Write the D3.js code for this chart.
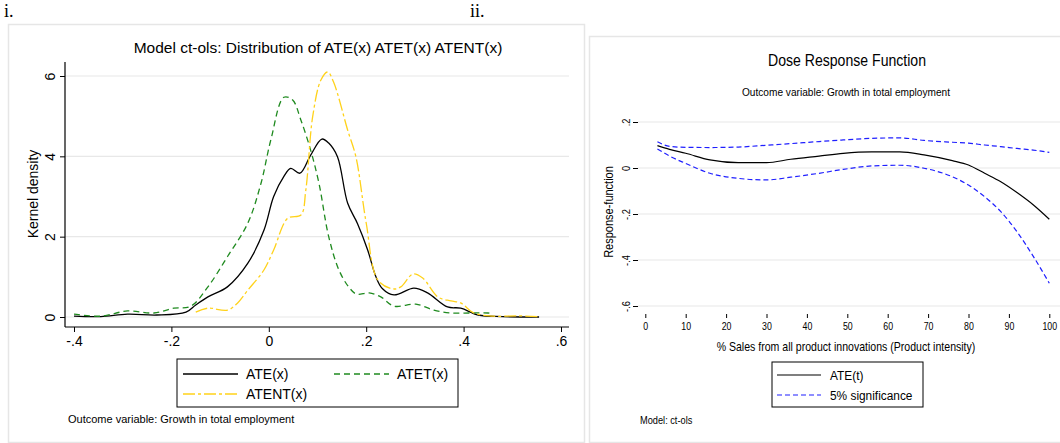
<!DOCTYPE html>
<html>
<head>
<meta charset="utf-8">
<script src="https://cdn.jsdelivr.net/npm/d3@7"></script>
<style>
  body { margin: 0; background: #fff; }
  svg { display: block; }
  svg text { font-family: "Liberation Sans", Arial, sans-serif; fill: #000; }
  .axis .domain { display: none; }
</style>
</head>
<body>
<svg id="chart"></svg>
<script>
// ---- left panel data: kernel densities [x, density]
const ateDensity = [[-0.40,0.02],[-0.345,0.01],[-0.29,0.07],[-0.23,0.05],[-0.17,0.12],[-0.15,0.3],[-0.125,0.5],[-0.085,0.75],[-0.043,1.34],[-0.01,2.16],[0.01,3.0],[0.031,3.5],[0.045,3.7],[0.064,3.58],[0.086,4.03],[0.109,4.43],[0.123,4.33],[0.141,3.99],[0.162,2.83],[0.182,2.33],[0.203,1.67],[0.22,1.0],[0.233,0.71],[0.257,0.55],[0.298,0.72],[0.326,0.6],[0.367,0.25],[0.394,0.22],[0.43,0.05],[0.48,0.01],[0.555,0.0]];
const atetDensity = [[-0.40,0.07],[-0.345,0.02],[-0.29,0.15],[-0.236,0.10],[-0.195,0.22],[-0.16,0.27],[-0.125,0.75],[-0.085,1.5],[-0.043,2.34],[-0.016,3.33],[0.004,4.4],[0.031,5.47],[0.049,5.4],[0.066,4.9],[0.086,4.15],[0.103,3.33],[0.123,2.0],[0.144,1.17],[0.164,0.75],[0.18,0.57],[0.206,0.6],[0.23,0.5],[0.257,0.27],[0.302,0.32],[0.339,0.17],[0.374,0.1],[0.415,0.1],[0.45,0.1],[0.46,0.08]];
const atentDensity = [[-0.15,0.12],[-0.125,0.22],[-0.085,0.17],[-0.064,0.35],[-0.043,0.67],[-0.01,1.17],[0.01,1.67],[0.039,2.46],[0.066,2.54],[0.076,3.16],[0.09,4.98],[0.107,5.9],[0.121,6.1],[0.133,5.85],[0.162,4.65],[0.179,3.98],[0.2,2.34],[0.224,0.92],[0.255,0.7],[0.271,0.75],[0.296,1.07],[0.316,0.97],[0.347,0.5],[0.374,0.4],[0.394,0.35],[0.421,0.1],[0.462,0.02],[0.51,0.03],[0.552,0.01]];
const leftXTicks = [-0.4, -0.2, 0, 0.2, 0.4, 0.6];
const leftYTicks = [0, 2, 4, 6];

// ---- right panel data: dose response
const doseX = [3, 6, 10, 16, 23, 30, 36, 43, 49, 56, 63, 69, 76, 80, 84, 88, 92, 96, 100];
const doseAte = [0.097,0.081,0.064,0.035,0.023,0.023,0.038,0.052,0.064,0.07,0.07,0.057,0.032,0.013,-0.023,-0.06,-0.107,-0.16,-0.223];
const doseLower = [0.083,0.052,0.02,-0.023,-0.045,-0.052,-0.04,-0.023,-0.006,0.009,0.012,-0.001,-0.038,-0.074,-0.125,-0.19,-0.277,-0.383,-0.501];
const doseUpper = [0.114,0.094,0.09,0.089,0.091,0.099,0.106,0.115,0.122,0.129,0.131,0.12,0.112,0.108,0.1,0.093,0.085,0.078,0.068];
const rightXTicks = [0, 10, 20, 30, 40, 50, 60, 70, 80, 90, 100];
const rightYTicks = [-0.6, -0.4, -0.2, 0, 0.2];

const w = 1060;
const h = 443;
const grid = "#e8e8e8";
const narrow = 0.88; // condensed look of the right panel's font
// Stata style labels: 0.4 -> .4, -0.2 -> -.2
const stataFmt = (d) => String(+d.toFixed(2)).replace(/^(-?)0\./, "$1.");

const svg = d3.select("#chart").attr("width", w).attr("height", h);

// panel labels
svg.append("text").attr("x", 4).attr("y", 17)
  .style("font-family", "'Liberation Serif', 'Times New Roman', serif")
  .style("font-size", "18px").text("i.");
svg.append("text").attr("x", 470).attr("y", 17)
  .style("font-family", "'Liberation Serif', 'Times New Roman', serif")
  .style("font-size", "18px").text("ii.");

// panel frames
svg.append("rect").attr("x", 8.5).attr("y", 24.5).attr("width", 576).attr("height", 418)
  .attr("fill", "#fff").attr("stroke", "#e6e6e6").attr("stroke-width", 1.5);
svg.append("rect").attr("x", 589.5).attr("y", 36.5).attr("width", 480).attr("height", 406)
  .attr("fill", "#fff").attr("stroke", "#e6e6e6").attr("stroke-width", 1.5);

// ================= left panel =================
const left = svg.append("g");
const xL = d3.scaleLinear().domain([-0.4, 0.6]).range([74, 561]);
const yL = d3.scaleLinear().domain([0, 6]).range([317, 76]);
const axL = 65, ayL = 327;

left.append("text").attr("x", 318).attr("y", 53).attr("text-anchor", "middle")
  .style("font-size", "15.5px").text("Model ct-ols: Distribution of ATE(x) ATET(x) ATENT(x)");

left.selectAll(".gridL").data(leftYTicks).enter().append("line")
  .attr("x1", axL).attr("x2", 569)
  .attr("y1", (d) => yL(d)).attr("y2", (d) => yL(d))
  .attr("stroke", grid).attr("stroke-width", 1.2);

const yAxisL = left.append("g").attr("class", "axis")
  .attr("transform", "translate(" + axL + ",0)")
  .call(d3.axisLeft(yL).tickValues(leftYTicks).tickSize(5).tickFormat(stataFmt));
yAxisL.selectAll("text").attr("transform", "rotate(-90)").attr("x", 0).attr("y", -10)
  .attr("dy", 0).attr("text-anchor", "middle").style("font-size", "14px");
left.append("line").attr("x1", axL).attr("x2", axL).attr("y1", 62).attr("y2", ayL)
  .attr("stroke", "#000").attr("stroke-width", 1.2);

const xAxisL = left.append("g").attr("class", "axis")
  .attr("transform", "translate(0," + ayL + ")")
  .call(d3.axisBottom(xL).tickValues(leftXTicks).tickSize(5).tickPadding(4).tickFormat(stataFmt));
xAxisL.selectAll("text").style("font-size", "14px");
left.append("line").attr("x1", axL).attr("x2", 569).attr("y1", ayL).attr("y2", ayL)
  .attr("stroke", "#000").attr("stroke-width", 1.2);

left.append("text").attr("transform", "translate(38,194) rotate(-90)")
  .attr("text-anchor", "middle").style("font-size", "14px").text("Kernel density");

const lineL = d3.line().x((d) => xL(d[0])).y((d) => yL(d[1])).curve(d3.curveCatmullRom);
const seriesL = [
  { name: "ATE(x)", data: ateDensity, color: "#000", dash: null },
  { name: "ATET(x)", data: atetDensity, color: "#1f8a1f", dash: "6,4" },
  { name: "ATENT(x)", data: atentDensity, color: "#ffd21a", dash: "12,3,3,3" },
];
seriesL.forEach((s) => {
  left.append("path").datum(s.data).attr("d", lineL)
    .attr("fill", "none").attr("stroke", s.color).attr("stroke-width", 1.3)
    .attr("stroke-dasharray", s.dash);
});

// left legend
left.append("rect").attr("x", 177).attr("y", 359).attr("width", 281).attr("height", 48)
  .attr("fill", "#fff").attr("stroke", "#000").attr("stroke-width", 1);
const legPosL = [[183, 374], [334, 374], [183, 394]];
seriesL.forEach((s, i) => {
  const [lx, ly] = legPosL[i];
  left.append("line").attr("x1", lx).attr("x2", lx + 55).attr("y1", ly).attr("y2", ly)
    .attr("stroke", s.color).attr("stroke-width", 1.3).attr("stroke-dasharray", s.dash);
  left.append("text").attr("x", lx + 63).attr("y", ly + 5).style("font-size", "14px").text(s.name);
});

left.append("text").attr("x", 68).attr("y", 423).style("font-size", "11px")
  .text("Outcome variable: Growth in total employment");

// ================= right panel =================
const right = svg.append("g");
const xR = d3.scaleLinear().domain([0, 100]).range([645.3, 1049.3]);
const yR = d3.scaleLinear().domain([-0.6, 0.2]).range([306, 122]);
const axR = 638, ayR = 314;

const narrowText = (x, y, size, txt, anchor, rot) => right.append("text")
  .attr("transform", "translate(" + x + "," + y + ")" + (rot ? " rotate(-90)" : "") + " scale(" + narrow + ",1)")
  .attr("text-anchor", anchor || "start").style("font-size", size + "px").text(txt);

narrowText(847, 66, 16, "Dose Response Function", "middle");
narrowText(846, 96, 11.5, "Outcome variable: Growth in total employment", "middle");

right.selectAll(".gridR").data(rightYTicks).enter().append("line")
  .attr("x1", axR).attr("x2", 1060)
  .attr("y1", (d) => yR(d)).attr("y2", (d) => yR(d))
  .attr("stroke", grid).attr("stroke-width", 1.2);

const yAxisR = right.append("g").attr("class", "axis")
  .attr("transform", "translate(" + axR + ",0)")
  .call(d3.axisLeft(yR).tickValues(rightYTicks).tickSize(5).tickFormat(stataFmt));
yAxisR.selectAll("text").attr("transform", "rotate(-90) scale(" + narrow + ",1)").attr("x", 0).attr("y", -8)
  .attr("dy", 0).attr("text-anchor", "middle").style("font-size", "10.5px");

const xAxisR = right.append("g").attr("class", "axis")
  .attr("transform", "translate(0," + ayR + ")")
  .call(d3.axisBottom(xR).tickValues(rightXTicks).tickSize(4).tickPadding(5).tickFormat(d3.format("d")));
xAxisR.selectAll("text").attr("transform", "scale(" + narrow + ",1)").style("font-size", "10px");

narrowText(613, 212, 12.5, "Response-function", "middle", true);
narrowText(846, 351, 12, "% Sales from all product innovations (Product intensity)", "middle");

const lineR = (vals) => d3.line()
  .x((d, i) => xR(doseX[i])).y((d) => yR(d)).curve(d3.curveMonotoneX)(vals);
const seriesR = [
  { data: doseAte, color: "#000", dash: null },
  { data: doseUpper, color: "#1f1fff", dash: "5,3" },
  { data: doseLower, color: "#1f1fff", dash: "5,3" },
];
seriesR.forEach((s) => {
  right.append("path").attr("d", lineR(s.data)).attr("fill", "none")
    .attr("stroke", s.color).attr("stroke-width", 1.2).attr("stroke-dasharray", s.dash);
});

// right legend
right.append("rect").attr("x", 772).attr("y", 362).attr("width", 151).attr("height", 45)
  .attr("fill", "#fff").attr("stroke", "#000").attr("stroke-width", 1);
const legR = [
  { name: "ATE(t)", color: "#000", dash: null, y: 375 },
  { name: "5% significance", color: "#1f1fff", dash: "5,3", y: 395 },
];
legR.forEach((s) => {
  right.append("line").attr("x1", 777).attr("x2", 821).attr("y1", s.y).attr("y2", s.y)
    .attr("stroke", s.color).attr("stroke-width", 1.2).attr("stroke-dasharray", s.dash);
  narrowText(830, s.y + 5, 13.5, s.name);
});

narrowText(640, 424, 10.5, "Model: ct-ols");
</script>
</body>
</html>
